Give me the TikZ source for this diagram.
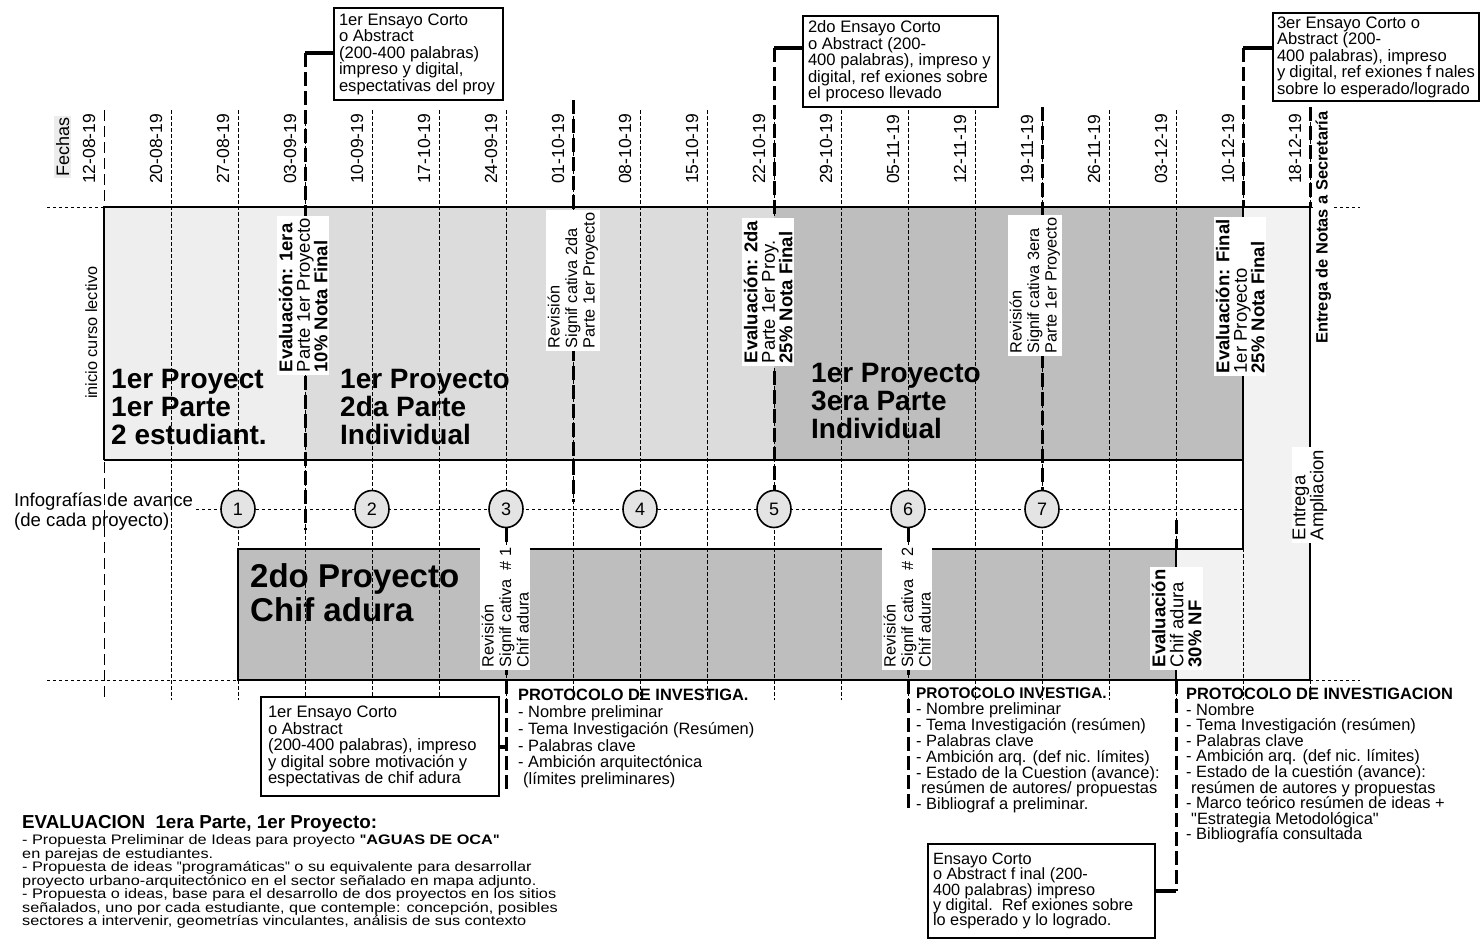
\documentclass[tikz,border=0pt]{standalone}
\usepackage{fontspec}
\setmainfont{Liberation Sans}
\newfontfamily\widefont[FakeStretch=1.18]{Liberation Sans}
\newfontfamily\plainfnt{Liberation Sans}
\usetikzlibrary{shapes.geometric}
\definecolor{ga}{HTML}{EEEEEE}
\definecolor{gb}{HTML}{DCDCDC}
\definecolor{gc}{HTML}{BEBEBE}
\definecolor{gd}{HTML}{F2F2F2}
\definecolor{ge}{HTML}{E4E4E4}
\newcommand\fsz[2]{\fontsize{#1}{#2}\selectfont}
\newcommand\dq{{\plainfnt"}}
\newcommand\blk[1]{\vtop{\lineskiplimit=-1000pt\relax\let\\=\cr\halign{##\hfil\cr#1\crcr}}}
\newcommand\blkw[2]{\vtop{\lineskiplimit=-1000pt\relax\let\\=\cr\halign{\hbox to #1{##\hfil}\cr#2\crcr}}}
\begin{document}
\begin{tikzpicture}[x=1pt,y=-1pt,
  gline/.style={line width=0.9pt, dash pattern=on 3.5pt off 2.5pt},
  dotl/.style={line width=0.9pt, dash pattern=on 3pt off 3pt},
  outl/.style={line width=2pt},
  thk/.style={line width=3pt, dash pattern=on 14pt off 5pt},
  conn/.style={line width=3.5pt},
  tbox/.style={draw, line width=2pt, fill=white, inner sep=0pt, anchor=north west, font={\fsz{16.6}{16.5}}},
  rlab/.style={rotate=90, fill=white, anchor=north west, inner xsep=2.5pt, inner ysep=1.5pt},
  rtxt/.style={rotate=90, anchor=base west, inner sep=0pt},
  infc/.style={ellipse, draw, line width=1.6pt, fill=ge, minimum width=34pt, minimum height=37pt, inner sep=0pt, font={\fsz{18}{18}}},
  txt/.style={anchor=base west, inner sep=0pt}
]
\useasboundingbox (0,0) rectangle (1480,940);
\fill[white] (0,0) rectangle (1480,940);
% region fills
\fill[ga] (104,207) rectangle (305,460);
\fill[gb] (305,207) rectangle (774,460);
\fill[gc] (774,207) rectangle (1243,460);
\fill[gd] (1243,207) rectangle (1310,549);
\fill[gd] (1176,549) rectangle (1310,680);
\fill[gc] (238,549) rectangle (1176,680);
% grid
\draw[gline, dash pattern=on 11pt off 5pt] (104,110) -- (104,700);
\foreach \i in {1,...,18} \draw[gline] (104+67*\i,110) -- (104+67*\i,700);
% dotted rows
\draw[dotl] (47,207) -- (104,207);
\draw[dotl] (1310,207) -- (1360,207);
\draw[dotl] (196,509) -- (1243,509);
\draw[dotl] (47,680) -- (238,680);
\draw[dotl] (1310,680) -- (1360,680);
% outlines
\draw[outl] (104,460) -- (104,207) -- (1310,207) -- (1310,680) -- (238,680) -- (238,549) -- (1243,549);
\draw[outl] (104,460) -- (1243,460);
\draw[outl] (1243,207) -- (1243,549);
\draw[line width=2.6pt] (1176,549) -- (1176,680);
% circles
\foreach \n/\x in {1/238,2/372,3/506,4/640,5/774,6/908,7/1042}
  \node[infc] (c\n) at (\x,509) {\n};
% boxes
\node[tbox, minimum width=169pt, minimum height=92pt] (b1) at (333,7)
  {\blkw{159pt}{1er Ensayo Corto\\o Abstract\\(200-400 palabras)\\impreso y digital,\\espectativas del proy}};
\node[tbox, minimum width=195pt, minimum height=91pt] (b2) at (802,15)
  {\blkw{185pt}{2do Ensayo Corto\\o Abstract (200-\\400 palabras), impreso y\\digital, ref exiones sobre\\el proceso llevado}};
\node[tbox, minimum width=206pt, minimum height=88pt] (b3) at (1272,12)
  {\blkw{198pt}{3er Ensayo Corto o\\Abstract (200-\\400 palabras), impreso\\y digital, ref exiones f nales\\sobre lo esperado/logrado}};
\node[tbox, minimum width=238pt, minimum height=99pt] (bb1) at (260,696)
  {\blkw{224pt}{1er Ensayo Corto\\o Abstract\\(200-400 palabras), impreso\\y digital sobre motivación y\\espectativas de chif adura}};
\node[tbox, minimum width=227pt, minimum height=94pt, font={\fsz{16.3}{15.3}}] (bb4) at (927,843)
  {\blkw{217pt}{Ensayo Corto\\o Abstract f inal (200-\\400 palabras) impreso\\y digital.~~Ref exiones sobre\\lo esperado y lo logrado.}};
% thick dashed lines and connectors
\coordinate (k1) at (305,53); \coordinate (k1e) at (305,530);
\draw[conn] (k1 -| b1.west) -- (k1); \draw[thk] (k1) -- (k1e);
\coordinate (k2) at (774,48);
\draw[conn] (k2 -| b2.west) -- (k2); \draw[thk] (k2) -- (c5.north);
\coordinate (k3) at (1243,48); \coordinate (k3e) at (1243,207);
\draw[conn] (k3 -| b3.west) -- (k3); \draw[thk] (k3) -- (k3e);
\coordinate (k4) at (573,100); \coordinate (k4e) at (573,502);
\draw[thk] (k4) -- (k4e);
\coordinate (k5) at (1042,107);
\draw[thk] (k5) -- (c7.north);
\coordinate (k6) at (1310,107); \coordinate (k6e) at (1310,207);
\draw[thk] (k6) -- (k6e);
\coordinate (k7) at (506,790); \coordinate (k7c) at (506,747);
\draw[thk] (c3.south) -- (k7); \draw[conn] (k7c -| bb1.east) -- (k7c);
\coordinate (k8) at (908,813);
\draw[thk] (c6.south) -- (k8);
\coordinate (k9) at (1176,520); \coordinate (k9e) at (1176,549);
\draw[thk] (k9) -- (k9e);
\coordinate (k10) at (1176,680); \coordinate (k10e) at (1176,891);
\draw[thk] (k10) -- (k10e); \draw[conn] (k10e -| bb4.east) -- (k10e);
% dates
\foreach \d [count=\i from 0] in {12-08-19,20-08-19,27-08-19,03-09-19,10-09-19,17-10-19,24-09-19,01-10-19,08-10-19,15-10-19,22-10-19,29-10-19,05-11-19,12-11-19,19-11-19,26-11-19,03-12-19,10-12-19,18-12-19}
  \node[rtxt, font={\fsz{17.5}{17.5}}] (d\i) at (104+67*\i-9,184) {\d};
\node[rotate=90, anchor=base west, fill=gray!15, inner sep=1.5pt, font={\fsz{18}{18}}] (fechas) at (69,178) {Fechas};
\node[rtxt, font={\fsz{16.3}{16.3}}] (inicio) at (97,399) {inicio curso lectivo};
\node[rotate=90, anchor=base west, fill=white, inner sep=1pt, font={\fsz{16.4}{16.4}\bfseries}] (notas) at (1327.5,345) {Entrega de Notas a Secretaría};
% rotated labels
\node[rlab, font={\fsz{18.5}{17.5}}] (l1) at (277,375) {\blk{\textbf{Evaluación: 1era}\\Parte 1er Proyecto\\\textbf{10\% Nota Final}}};
\node[rlab, font={\fsz{16.3}{17.5}}] (l2) at (546,351) {\blk{Revisión\\Signif cativa 2da\\Parte 1er Proyecto}};
\node[rlab, font={\fsz{18.5}{17.5}}] (l3) at (742,366) {\blk{\textbf{Evaluación: 2da}\\Parte 1er Proy.\\\textbf{25\% Nota Final}}};
\node[rlab, font={\fsz{16.3}{17.5}}] (l4) at (1008,356) {\blk{Revisión\\Signif cativa 3era\\Parte 1er Proyecto}};
\node[rlab, font={\fsz{18.5}{17.5}}] (l5) at (1214,376) {\blk{\textbf{Evaluación: Final}\\1er Proyecto\\\textbf{25\% Nota Final}}};
\node[rlab, font={\fsz{16.3}{17.5}}] (l7) at (480,670) {\blk{Revisión\\Signif cativa~~\# 1\\Chif adura}};
\node[rlab, font={\fsz{16.3}{17.5}}] (l8) at (882,670) {\blk{Revisión\\Signif cativa~~\# 2\\Chif adura}};
\node[rlab, font={\fsz{18.5}{18}}] (l9) at (1150,670) {\blk{\textbf{Evaluación}\\Chif adura\\\textbf{30\% NF}}};
\node[rlab, inner ysep=0.5pt, font={\fsz{18.5}{18}}] (l10) at (1292,543) {\blk{Entrega\\Ampliacion}};
% big labels
\node[txt, font={\fsz{28}{28}\bfseries}] (p1) at (111,388) {\blk{1er Proyect\\1er Parte\\2 estudiant.}};
\node[txt, font={\fsz{28}{28}\bfseries}] (p2) at (340,388) {\blk{1er Proyecto\\2da Parte\\Individual}};
\node[txt, font={\fsz{28}{28}\bfseries}] (p3) at (811,382) {\blk{1er Proyecto\\3era Parte\\Individual}};
\node[txt, font={\fsz{33}{34}\bfseries}] (p4) at (250,587) {\blk{2do Proyecto\\Chif adura}};
\node[txt, font={\fsz{18.6}{20}}] (info) at (14,506.5) {\blk{Infografías de avance\\(de cada proyecto)}};
% protocol texts
\node[txt, font={\fsz{16.4}{16.8}}] (pr1) at (518,700.6) {\blk{\textbf{PROTOCOLO DE INVESTIGA.}\\- Nombre preliminar\\- Tema Investigación (Resúmen)\\- Palabras clave\\- Ambición arquitectónica\\\hspace*{5pt}(límites preliminares)}};
\node[txt, font={\fsz{16.4}{15.9}}] (pr2) at (916,698.5) {\blk{\textbf{\fsz{15.4}{15.9}PROTOCOLO INVESTIGA.}\\- Nombre preliminar\\- Tema Investigación (resúmen)\\- Palabras clave\\- Ambición arq. (def nic. límites)\\- Estado de la Cuestion (avance):\\\hspace*{5pt}resúmen de autores/ propuestas\\- Bibliograf a preliminar.}};
\node[txt, font={\fsz{16.4}{15.6}}] (pr3) at (1186,699.5) {\blk{\textbf{PROTOCOLO DE INVESTIGACION}\\- Nombre\\- Tema Investigación (resúmen)\\- Palabras clave\\- Ambición arq. (def nic. límites)\\- Estado de la cuestión (avance):\\\hspace*{5pt}resúmen de autores y propuestas\\- Marco teórico resúmen de ideas +\\\hspace*{5pt}\dq Estrategia Metodológica\dq\\- Bibliografía consultada}};
% bottom-left evaluation text
\node[txt, font={\fsz{18.8}{18.8}\bfseries}] (ev) at (22,828) {EVALUACION\ \ 1era Parte, 1er Proyecto:};
\node[txt, font={\widefont\fsz{13.8}{13.45}}] (evb) at (22,844.8) {\blk{- Propuesta Preliminar de Ideas para proyecto \textbf{\dq AGUAS DE OCA\dq}\\en parejas de estudiantes.\\- Propuesta de ideas \dq programáticas\dq\ o su equivalente para desarrollar\\proyecto urbano-arquitectónico en el sector señalado en mapa adjunto.\\- Propuesta o ideas, base para el desarrollo de dos proyectos en los sitios\\señalados, uno por cada estudiante, que contemple: concepción, posibles\\sectores a intervenir, geometrías vinculantes, análisis de sus contexto}};
\end{tikzpicture}
\end{document}
